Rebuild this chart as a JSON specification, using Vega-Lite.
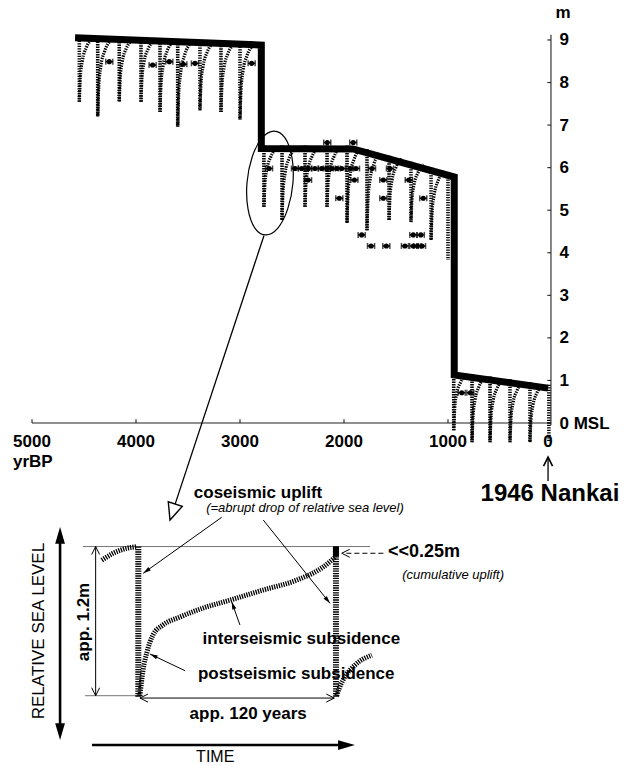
{
"$schema": "https://vega.github.io/schema/vega-lite/v6.json",
"width": 625, "height": 766, "autosize": "none", "padding": 0,
"background": "white",
"config": {"view": {"stroke": null}, "text": {"font": "Liberation Sans", "color": "black"}},
"datasets": {
"axlines": [{"yr":5000,"m":0,"yr2":10,"m2":0},{"yr":10,"m":-0.05,"yr2":10,"m2":9.12}],
"ticks": [
{"yr":5000,"m":0,"yr2":5000,"m2":0.09},{"yr":4000,"m":0,"yr2":4000,"m2":0.09},{"yr":3000,"m":0,"yr2":3000,"m2":0.09},{"yr":2000,"m":0,"yr2":2000,"m2":0.09},{"yr":1000,"m":0,"yr2":1000,"m2":0.09},
{"yr":10,"m":0,"yr2":45,"m2":0},{"yr":10,"m":1,"yr2":45,"m2":1},{"yr":10,"m":2,"yr2":45,"m2":2},{"yr":10,"m":3,"yr2":45,"m2":3},{"yr":10,"m":4,"yr2":45,"m2":4},
{"yr":10,"m":5,"yr2":45,"m2":5},{"yr":10,"m":6,"yr2":45,"m2":6},{"yr":10,"m":7,"yr2":45,"m2":7},{"yr":10,"m":8,"yr2":45,"m2":8},{"yr":10,"m":9,"yr2":45,"m2":9}],
"xlab": [{"yr":5000,"m":-0.45,"label":"5000"},{"yr":4000,"m":-0.45,"label":"4000"},{"yr":3000,"m":-0.45,"label":"3000"},{"yr":2000,"m":-0.45,"label":"2000"},{"yr":1000,"m":-0.45,"label":"1000"},{"yr":38,"m":-0.45,"label":"0"}],
"step": [{"o":1,"yr":4586,"m":9.05},{"o":2,"yr":2795,"m":8.88},{"o":3,"yr":2795,"m":6.45},{"o":4,"yr":1913,"m":6.44},{"o":5,"yr":940,"m":5.78},{"o":6,"yr":940,"m":1.13},{"o":7,"yr":38,"m":0.82}],
"teeth": [
{"id":"T1","yr":4545,"m":9.10,"m2":7.55},{"id":"T2","yr":4368,"m":9.08,"m2":7.20},{"id":"T3","yr":4161,"m":9.07,"m2":7.55},{"id":"T4","yr":3952,"m":9.05,"m2":7.55},{"id":"T5","yr":3769,"m":9.04,"m2":7.31},{"id":"T6","yr":3599,"m":9.02,"m2":6.96},{"id":"T7","yr":3385,"m":9.00,"m2":7.35},{"id":"T8","yr":3183,"m":8.98,"m2":7.31},{"id":"T9","yr":3000,"m":8.96,"m2":7.13},
{"id":"S1","yr":2770,"m":6.52,"m2":5.08},{"id":"S2","yr":2596,"m":6.52,"m2":4.77},{"id":"S3","yr":2375,"m":6.52,"m2":5.08},{"id":"S4","yr":2163,"m":6.52,"m2":5.08},{"id":"S5","yr":1971,"m":6.52,"m2":4.70},{"id":"S6","yr":1779,"m":6.43,"m2":4.53},{"id":"S7","yr":1567,"m":6.28,"m2":4.77},{"id":"S8","yr":1356,"m":6.14,"m2":4.72},{"id":"S9","yr":1163,"m":6.00,"m2":4.30},{"id":"S10","yr":1000,"m":5.90,"m2":3.83},
{"id":"R1","yr":945,"m":1.21,"m2":-0.17},{"id":"R2","yr":769,"m":1.15,"m2":-0.45},{"id":"R3","yr":596,"m":1.09,"m2":-0.45},{"id":"R4","yr":404,"m":1.03,"m2":-0.45},{"id":"R5","yr":212,"m":0.96,"m2":-0.45},{"id":"R6","yr":30,"m":0.90,"m2":-0.45}],
"curves": [
{"id":"T1","o":1,"yr":4545,"m":7.55},{"id":"T1","o":2,"yr":4535,"m":8.14},{"id":"T1","o":3,"yr":4516,"m":8.51},{"id":"T1","o":4,"yr":4478,"m":8.82},{"id":"T1","o":5,"yr":4420,"m":9.02},
{"id":"T2","o":1,"yr":4368,"m":7.20},{"id":"T2","o":2,"yr":4358,"m":7.91},{"id":"T2","o":3,"yr":4339,"m":8.37},{"id":"T2","o":4,"yr":4301,"m":8.74},{"id":"T2","o":5,"yr":4243,"m":8.99},
{"id":"T3","o":1,"yr":4161,"m":7.55},{"id":"T3","o":2,"yr":4151,"m":8.13},{"id":"T3","o":3,"yr":4132,"m":8.49},{"id":"T3","o":4,"yr":4094,"m":8.80},{"id":"T3","o":5,"yr":4036,"m":8.99},
{"id":"T4","o":1,"yr":3952,"m":7.55},{"id":"T4","o":2,"yr":3942,"m":8.12},{"id":"T4","o":3,"yr":3923,"m":8.48},{"id":"T4","o":4,"yr":3885,"m":8.78},{"id":"T4","o":5,"yr":3827,"m":8.98},
{"id":"T5","o":1,"yr":3769,"m":7.31},{"id":"T5","o":2,"yr":3759,"m":7.97},{"id":"T5","o":3,"yr":3740,"m":8.38},{"id":"T5","o":4,"yr":3702,"m":8.73},{"id":"T5","o":5,"yr":3644,"m":8.95},
{"id":"T6","o":1,"yr":3599,"m":6.96},{"id":"T6","o":2,"yr":3589,"m":7.74},{"id":"T6","o":3,"yr":3570,"m":8.24},{"id":"T6","o":4,"yr":3532,"m":8.65},{"id":"T6","o":5,"yr":3474,"m":8.92},
{"id":"T7","o":1,"yr":3385,"m":7.35},{"id":"T7","o":2,"yr":3375,"m":7.98},{"id":"T7","o":3,"yr":3356,"m":8.37},{"id":"T7","o":4,"yr":3318,"m":8.70},{"id":"T7","o":5,"yr":3260,"m":8.92},
{"id":"T8","o":1,"yr":3183,"m":7.31},{"id":"T8","o":2,"yr":3173,"m":7.95},{"id":"T8","o":3,"yr":3154,"m":8.35},{"id":"T8","o":4,"yr":3116,"m":8.68},{"id":"T8","o":5,"yr":3058,"m":8.90},
{"id":"T9","o":1,"yr":3000,"m":7.13},{"id":"T9","o":2,"yr":2990,"m":7.83},{"id":"T9","o":3,"yr":2971,"m":8.27},{"id":"T9","o":4,"yr":2933,"m":8.63},{"id":"T9","o":5,"yr":2875,"m":8.87},
{"id":"S1","o":1,"yr":2770,"m":5.08},{"id":"S1","o":2,"yr":2760,"m":5.63},{"id":"S1","o":3,"yr":2741,"m":5.97},{"id":"S1","o":4,"yr":2703,"m":6.26},{"id":"S1","o":5,"yr":2645,"m":6.45},
{"id":"S2","o":1,"yr":2596,"m":4.77},{"id":"S2","o":2,"yr":2586,"m":5.44},{"id":"S2","o":3,"yr":2567,"m":5.86},{"id":"S2","o":4,"yr":2529,"m":6.21},{"id":"S2","o":5,"yr":2471,"m":6.43},
{"id":"S3","o":1,"yr":2375,"m":5.08},{"id":"S3","o":2,"yr":2365,"m":5.63},{"id":"S3","o":3,"yr":2346,"m":5.97},{"id":"S3","o":4,"yr":2308,"m":6.26},{"id":"S3","o":5,"yr":2250,"m":6.45},
{"id":"S4","o":1,"yr":2163,"m":5.08},{"id":"S4","o":2,"yr":2153,"m":5.63},{"id":"S4","o":3,"yr":2134,"m":5.97},{"id":"S4","o":4,"yr":2096,"m":6.26},{"id":"S4","o":5,"yr":2038,"m":6.45},
{"id":"S5","o":1,"yr":1971,"m":4.70},{"id":"S5","o":2,"yr":1961,"m":5.39},{"id":"S5","o":3,"yr":1942,"m":5.83},{"id":"S5","o":4,"yr":1904,"m":6.19},{"id":"S5","o":5,"yr":1846,"m":6.43},
{"id":"S6","o":1,"yr":1779,"m":4.53},{"id":"S6","o":2,"yr":1769,"m":5.25},{"id":"S6","o":3,"yr":1750,"m":5.71},{"id":"S6","o":4,"yr":1712,"m":6.09},{"id":"S6","o":5,"yr":1654,"m":6.34},
{"id":"S7","o":1,"yr":1567,"m":4.77},{"id":"S7","o":2,"yr":1557,"m":5.34},{"id":"S7","o":3,"yr":1538,"m":5.71},{"id":"S7","o":4,"yr":1500,"m":6.01},{"id":"S7","o":5,"yr":1442,"m":6.21},
{"id":"S8","o":1,"yr":1356,"m":4.72},{"id":"S8","o":2,"yr":1346,"m":5.26},{"id":"S8","o":3,"yr":1327,"m":5.60},{"id":"S8","o":4,"yr":1289,"m":5.88},{"id":"S8","o":5,"yr":1231,"m":6.07},
{"id":"S9","o":1,"yr":1163,"m":4.30},{"id":"S9","o":2,"yr":1153,"m":4.95},{"id":"S9","o":3,"yr":1134,"m":5.35},{"id":"S9","o":4,"yr":1096,"m":5.69},{"id":"S9","o":5,"yr":1038,"m":5.92},
{"id":"R1","o":1,"yr":945,"m":-0.17},{"id":"R1","o":2,"yr":935,"m":0.35},{"id":"R1","o":3,"yr":916,"m":0.69},{"id":"R1","o":4,"yr":878,"m":0.96},{"id":"R1","o":5,"yr":820,"m":1.14},
{"id":"R2","o":1,"yr":769,"m":-0.45},{"id":"R2","o":2,"yr":759,"m":0.16},{"id":"R2","o":3,"yr":740,"m":0.54},{"id":"R2","o":4,"yr":702,"m":0.86},{"id":"R2","o":5,"yr":644,"m":1.07},
{"id":"R3","o":1,"yr":596,"m":-0.45},{"id":"R3","o":2,"yr":586,"m":0.14},{"id":"R3","o":3,"yr":567,"m":0.51},{"id":"R3","o":4,"yr":529,"m":0.81},{"id":"R3","o":5,"yr":471,"m":1.01},
{"id":"R4","o":1,"yr":404,"m":-0.45},{"id":"R4","o":2,"yr":394,"m":0.11},{"id":"R4","o":3,"yr":375,"m":0.47},{"id":"R4","o":4,"yr":337,"m":0.76},{"id":"R4","o":5,"yr":279,"m":0.96},
{"id":"R5","o":1,"yr":212,"m":-0.45},{"id":"R5","o":2,"yr":202,"m":0.09},{"id":"R5","o":3,"yr":183,"m":0.42},{"id":"R5","o":4,"yr":145,"m":0.71},{"id":"R5","o":5,"yr":87,"m":0.89}],
"pts": [
{"yr":4257,"m":8.49,"lo":4291,"hi":4223},{"yr":3840,"m":8.41,"lo":3874,"hi":3806},{"yr":3680,"m":8.49,"lo":3714,"hi":3646},{"yr":3545,"m":8.43,"lo":3579,"hi":3511},{"yr":3433,"m":8.45,"lo":3467,"hi":3399},{"yr":2888,"m":8.45,"lo":2922,"hi":2854},
{"yr":2161,"m":6.59,"lo":2195,"hi":2127},{"yr":1911,"m":6.59,"lo":1945,"hi":1877},
{"yr":2721,"m":5.98,"lo":2755,"hi":2687},{"yr":2471,"m":5.98,"lo":2505,"hi":2437},{"yr":2407,"m":5.98,"lo":2441,"hi":2373},{"yr":2343,"m":5.98,"lo":2377,"hi":2309},{"yr":2279,"m":5.98,"lo":2313,"hi":2245},{"yr":2215,"m":5.98,"lo":2249,"hi":2181},{"yr":2166,"m":5.98,"lo":2200,"hi":2132},{"yr":2118,"m":5.98,"lo":2152,"hi":2084},{"yr":2070,"m":5.98,"lo":2104,"hi":2036},{"yr":2022,"m":5.98,"lo":2056,"hi":1988},{"yr":1942,"m":5.98,"lo":1976,"hi":1908},{"yr":1885,"m":5.98,"lo":1919,"hi":1851},{"yr":1731,"m":5.98,"lo":1765,"hi":1697},{"yr":1558,"m":5.98,"lo":1592,"hi":1524},
{"yr":2346,"m":5.71,"lo":2380,"hi":2312},{"yr":1900,"m":5.71,"lo":1934,"hi":1866},{"yr":1622,"m":5.71,"lo":1656,"hi":1588},{"yr":1377,"m":5.71,"lo":1411,"hi":1343},
{"yr":2045,"m":5.28,"lo":2079,"hi":2011},{"yr":1622,"m":5.28,"lo":1656,"hi":1588},{"yr":1238,"m":5.28,"lo":1272,"hi":1204},
{"yr":1830,"m":4.42,"lo":1864,"hi":1796},{"yr":1334,"m":4.42,"lo":1368,"hi":1300},{"yr":1262,"m":4.42,"lo":1296,"hi":1228},
{"yr":1740,"m":4.16,"lo":1774,"hi":1706},{"yr":1593,"m":4.16,"lo":1627,"hi":1559},{"yr":1414,"m":4.16,"lo":1448,"hi":1380},{"yr":1334,"m":4.16,"lo":1368,"hi":1300},{"yr":1294,"m":4.16,"lo":1328,"hi":1260},{"yr":1250,"m":4.16,"lo":1284,"hi":1216},
{"yr":868,"m":0.71,"lo":902,"hi":834},{"yr":785,"m":0.71,"lo":819,"hi":751}],
"ellipse": [{"o":1,"yr":2491,"m":5.64},{"o":2,"yr":2501,"m":6.25},{"o":3,"yr":2567,"m":6.70},{"o":4,"yr":2672,"m":6.86},{"o":5,"yr":2788,"m":6.70},{"o":6,"yr":2883,"m":6.25},{"o":7,"yr":2933,"m":5.64},{"o":8,"yr":2923,"m":5.03},{"o":9,"yr":2857,"m":4.58},{"o":10,"yr":2752,"m":4.42},{"o":11,"yr":2636,"m":4.58},{"o":12,"yr":2541,"m":5.03}],
"arrowline": [{"yr":2770,"m":4.40,"yr2":3623,"m2":-1.90},{"yr":38,"m":-0.84,"yr2":38,"m2":-1.36}],
"bighead": [{"yr":3673,"m":-2.28}],
"nkhead": [{"yr":38,"m":-0.80}],
"mtext": [{"yr":-106,"m":9.63,"label":"m","kind":"c"},{"yr":5183,"m":-0.92,"label":"yrBP","kind":"l"},{"yr":20,"m":-1.67,"label":"1946 Nankai","kind":"big"}],
"iGuides": [{"t":-33.6,"t2":140.7,"rsl":1.2},{"t":-32.4,"t2":1,"rsl":0}],
"iVert": [{"t":0,"rsl":1.2,"rsl2":-0.01},{"t":120,"rsl":1.2,"rsl2":-0.01}],
"iBlock": [{"t":120,"rsl":1.2,"rsl2":1.12}],
"iCurves": [
{"id":"C0","o":1,"t":-22.2,"rsl":1.09},{"id":"C0","o":2,"t":-15.2,"rsl":1.146},{"id":"C0","o":3,"t":-7,"rsl":1.186},{"id":"C0","o":4,"t":-1,"rsl":1.199},
{"id":"C1","o":1,"t":1.0,"rsl":0.0},{"id":"C1","o":2,"t":2.9,"rsl":0.207},{"id":"C1","o":3,"t":5.3,"rsl":0.352},{"id":"C1","o":4,"t":8.9,"rsl":0.488},{"id":"C1","o":5,"t":15.0,"rsl":0.569},{"id":"C1","o":6,"t":25.3,"rsl":0.633},{"id":"C1","o":7,"t":39.3,"rsl":0.705},{"id":"C1","o":8,"t":55.7,"rsl":0.769},{"id":"C1","o":9,"t":75.7,"rsl":0.85},{"id":"C1","o":10,"t":96.4,"rsl":0.931},{"id":"C1","o":11,"t":112.2,"rsl":1.035},{"id":"C1","o":12,"t":120.0,"rsl":1.12},
{"id":"C2","o":1,"t":120.5,"rsl":0.0},{"id":"C2","o":2,"t":122,"rsl":0.06},{"id":"C2","o":3,"t":124.3,"rsl":0.126},{"id":"C2","o":4,"t":131.5,"rsl":0.246},{"id":"C2","o":5,"t":141.8,"rsl":0.326}],
"iThin": [{"t":-25.9,"rsl":1.2,"t2":-25.9,"rsl2":0},{"t":1,"rsl":-0.019,"t2":119,"rsl2":-0.019},{"t":50.6,"rsl":1.435,"t2":3.0,"rsl2":0.985},{"t":75.9,"rsl":1.413,"t2":116.4,"rsl2":0.743},{"t":61.7,"rsl":0.569,"t2":56.7,"rsl2":0.756},{"t":28.4,"rsl":0.201,"t2":7.1,"rsl2":0.335}],
"iThick": [{"t":-47.5,"rsl":1.293,"t2":-47.5,"rsl2":-0.293},{"t":-28.1,"rsl":-0.397,"t2":127,"rsl2":-0.397}],
"iDash": [{"t":148.8,"rsl":1.146,"t2":124.5,"rsl2":1.146}],
"iHeads": [
{"t":-47.5,"rsl":1.357,"kind":"bigUp"},{"t":-47.5,"rsl":-0.356,"kind":"bigDown"},{"t":131.5,"rsl":-0.397,"kind":"bigRight"},
{"t":3.0,"rsl":0.985,"kind":"a1"},{"t":116.4,"rsl":0.743,"kind":"a2"},{"t":56.7,"rsl":0.756,"kind":"a3"},{"t":7.1,"rsl":0.335,"kind":"a4"},
{"t":-25.9,"rsl":1.2,"kind":"openUp"},{"t":-25.9,"rsl":0,"kind":"openDown"},{"t":1,"rsl":-0.019,"kind":"openLeft"},{"t":119,"rsl":-0.019,"kind":"openRight"},{"t":123.5,"rsl":1.146,"kind":"openLeft"}],
"iText": [
{"t":72.7,"rsl":1.63,"label":"coseismic uplift","kind":"bold"},{"t":99,"rsl":0.456,"label":"interseismic subsidence","kind":"bold"},{"t":95.9,"rsl":0.175,"label":"postseismic subsidence","kind":"bold"},{"t":66.7,"rsl":-0.147,"label":"app. 120 years","kind":"bold"},
{"t":101.2,"rsl":1.51,"label":"(=abrupt drop of relative sea level)","kind":"ital"},
{"t":160.2,"rsl":0.971,"label":"(cumulative uplift)","kind":"italL"},
{"t":151.6,"rsl":1.156,"label":"<<0.25m","kind":"boldL"},
{"t":-33,"rsl":0.593,"label":"app. 1.2m","kind":"rotB"},
{"t":-60.3,"rsl":0.52,"label":"RELATIVE SEA LEVEL","kind":"rotR"},
{"t":46.7,"rsl":-0.493,"label":"TIME","kind":"reg"}]
},
"layer": [
{
"encoding": {
"x": {"field":"yr","type":"quantitative","scale":{"domain":[-701.9,5307.7],"reverse":true,"nice":false,"zero":false},"axis":null},
"y": {"field":"m","type":"quantitative","scale":{"domain":[-8.059,9.939],"nice":false,"zero":false},
"axis":{"orient":"right","offset":-74,"values":[0,1,2,3,4,5,6,7,8,9],"title":null,"domain":false,"ticks":false,"grid":false,"labelFont":"Liberation Sans","labelFontWeight":"bold","labelFontSize":17,"labelColor":"black","labelPadding":8,"labelFlush":false,"labelOverlap":false,"labelExpr":"datum.value == 0 ? '0 MSL' : datum.label"}}
},
"layer": [
{"data":{"name":"axlines"},"mark":{"type":"rule","color":"#222","strokeWidth":1.1},"encoding":{"x2":{"field":"yr2"},"y2":{"field":"m2"}}},
{"data":{"name":"ticks"},"mark":{"type":"rule","color":"#222","strokeWidth":1.1},"encoding":{"x2":{"field":"yr2"},"y2":{"field":"m2"}}},
{"data":{"name":"xlab"},"mark":{"type":"text","font":"Liberation Sans","fontWeight":"bold","fontSize":17,"align":"center","baseline":"middle"},"encoding":{"text":{"field":"label"}}},
{"data":{"name":"teeth"},"mark":{"type":"rule","color":"black","strokeWidth":3.6,"strokeDash":[1.4,1.1]},"encoding":{"y2":{"field":"m2"}}},
{"data":{"name":"curves"},"mark":{"type":"line","color":"black","interpolate":"monotone","strokeWidth":3.2,"strokeDash":[1.4,1.1]},"encoding":{"detail":{"field":"id"},"order":{"field":"o","type":"quantitative"}}},
{"data":{"name":"pts"},"mark":{"type":"rule","color":"black","strokeWidth":1.5},"encoding":{"x":{"field":"lo","type":"quantitative","axis":null},"x2":{"field":"hi"}}},
{"data":{"name":"pts"},"mark":{"type":"point","shape":"M0,-1L0,1","size":36,"filled":false,"stroke":"black","strokeWidth":1.5},"encoding":{"x":{"field":"lo","type":"quantitative","axis":null}}},
{"data":{"name":"pts"},"mark":{"type":"point","shape":"M0,-1L0,1","size":36,"filled":false,"stroke":"black","strokeWidth":1.5},"encoding":{"x":{"field":"hi","type":"quantitative","axis":null}}},
{"data":{"name":"pts"},"mark":{"type":"point","shape":"circle","size":26,"filled":true,"color":"black","opacity":1}},
{"data":{"name":"step"},"mark":{"type":"line","color":"black","strokeWidth":7,"strokeJoin":"miter","strokeCap":"butt"},"encoding":{"order":{"field":"o","type":"quantitative"}}},
{"data":{"name":"ellipse"},"mark":{"type":"line","color":"black","strokeWidth":1.2,"interpolate":"cardinal-closed"},"encoding":{"order":{"field":"o","type":"quantitative"}}},
{"data":{"name":"arrowline"},"mark":{"type":"rule","color":"black","strokeWidth":1.3},"encoding":{"x2":{"field":"yr2"},"y2":{"field":"m2"}}},
{"data":{"name":"bighead"},"mark":{"type":"point","shape":"M0,0L-0.7,-1.6L0.7,-1.6Z","size":441,"angle":18.2,"filled":true,"fill":"white","stroke":"black","strokeWidth":1.4,"opacity":1}},
{"data":{"name":"nkhead"},"mark":{"type":"point","shape":"M-1,2L0,0L1,2","size":81,"filled":false,"stroke":"black","strokeWidth":1.6,"opacity":1}},
{"data":{"name":"mtext"},"transform":[{"filter":"datum.kind == 'c'"}],"mark":{"type":"text","font":"Liberation Sans","fontWeight":"bold","fontSize":17,"align":"center","baseline":"middle"},"encoding":{"text":{"field":"label"}}},
{"data":{"name":"mtext"},"transform":[{"filter":"datum.kind == 'l'"}],"mark":{"type":"text","font":"Liberation Sans","fontWeight":"bold","fontSize":17,"align":"left","baseline":"middle"},"encoding":{"text":{"field":"label"}}},
{"data":{"name":"mtext"},"transform":[{"filter":"datum.kind == 'big'"}],"mark":{"type":"text","font":"Liberation Sans","fontWeight":"bold","fontSize":24,"align":"center","baseline":"middle"},"encoding":{"text":{"field":"label"}}}
]
},
{
"encoding": {
"x": {"field":"t","type":"quantitative","scale":{"domain":[-83.97,295.5],"nice":false,"zero":false},"axis":null},
"y": {"field":"rsl","type":"quantitative","scale":{"domain":[-0.5656,5.597],"nice":false,"zero":false},"axis":null}
},
"layer": [
{"data":{"name":"iGuides"},"mark":{"type":"rule","color":"#777","strokeWidth":1},"encoding":{"x2":{"field":"t2"}}},
{"data":{"name":"iCurves"},"mark":{"type":"line","color":"black","interpolate":"monotone","strokeWidth":5,"strokeDash":[1.3,1.1]},"encoding":{"detail":{"field":"id"},"order":{"field":"o","type":"quantitative"}}},
{"data":{"name":"iVert"},"mark":{"type":"rule","color":"black","strokeWidth":6,"strokeDash":[1.3,1.1]},"encoding":{"y2":{"field":"rsl2"}}},
{"data":{"name":"iBlock"},"mark":{"type":"rule","color":"black","strokeWidth":6},"encoding":{"y2":{"field":"rsl2"}}},
{"data":{"name":"iThin"},"mark":{"type":"rule","color":"black","strokeWidth":1},"encoding":{"x2":{"field":"t2"},"y2":{"field":"rsl2"}}},
{"data":{"name":"iThick"},"mark":{"type":"rule","color":"black","strokeWidth":2.6},"encoding":{"x2":{"field":"t2"},"y2":{"field":"rsl2"}}},
{"data":{"name":"iDash"},"mark":{"type":"rule","color":"black","strokeWidth":1,"strokeDash":[5,3]},"encoding":{"x2":{"field":"t2"},"y2":{"field":"rsl2"}}},
{"data":{"name":"iHeads"},"transform":[{"filter":"datum.kind == 'bigUp'"}],"mark":{"type":"point","shape":"M0,0L-0.7,2.4L0.7,2.4Z","size":196,"filled":true,"color":"black","opacity":1}},
{"data":{"name":"iHeads"},"transform":[{"filter":"datum.kind == 'bigDown'"}],"mark":{"type":"point","shape":"M0,0L-0.7,-2.4L0.7,-2.4Z","size":196,"filled":true,"color":"black","opacity":1}},
{"data":{"name":"iHeads"},"transform":[{"filter":"datum.kind == 'bigRight'"}],"mark":{"type":"point","shape":"M0,0L-2.4,-0.7L-2.4,0.7Z","size":196,"filled":true,"color":"black","opacity":1}},
{"data":{"name":"iHeads"},"transform":[{"filter":"datum.kind == 'a1'"}],"mark":{"type":"point","shape":"M0,0L-0.6,2.2L0.6,2.2Z","size":49,"angle":234.5,"filled":true,"color":"black","opacity":1}},
{"data":{"name":"iHeads"},"transform":[{"filter":"datum.kind == 'a2'"}],"mark":{"type":"point","shape":"M0,0L-0.6,2.2L0.6,2.2Z","size":49,"angle":141.3,"filled":true,"color":"black","opacity":1}},
{"data":{"name":"iHeads"},"transform":[{"filter":"datum.kind == 'a3'"}],"mark":{"type":"point","shape":"M0,0L-0.6,2.2L0.6,2.2Z","size":49,"angle":-19.6,"filled":true,"color":"black","opacity":1}},
{"data":{"name":"iHeads"},"transform":[{"filter":"datum.kind == 'a4'"}],"mark":{"type":"point","shape":"M0,0L-0.6,2.2L0.6,2.2Z","size":49,"angle":-64.5,"filled":true,"color":"black","opacity":1}},
{"data":{"name":"iHeads"},"transform":[{"filter":"datum.kind == 'openUp'"}],"mark":{"type":"point","shape":"M-1,2L0,0L1,2","size":64,"filled":false,"stroke":"black","strokeWidth":1,"opacity":1}},
{"data":{"name":"iHeads"},"transform":[{"filter":"datum.kind == 'openDown'"}],"mark":{"type":"point","shape":"M-1,-2L0,0L1,-2","size":64,"filled":false,"stroke":"black","strokeWidth":1,"opacity":1}},
{"data":{"name":"iHeads"},"transform":[{"filter":"datum.kind == 'openLeft'"}],"mark":{"type":"point","shape":"M2,-1L0,0L2,1","size":64,"filled":false,"stroke":"black","strokeWidth":1,"opacity":1}},
{"data":{"name":"iHeads"},"transform":[{"filter":"datum.kind == 'openRight'"}],"mark":{"type":"point","shape":"M-2,-1L0,0L-2,1","size":64,"filled":false,"stroke":"black","strokeWidth":1,"opacity":1}},
{"data":{"name":"iText"},"transform":[{"filter":"datum.kind == 'bold'"}],"mark":{"type":"text","font":"Liberation Sans","fontWeight":"bold","fontSize":17,"align":"center","baseline":"middle"},"encoding":{"text":{"field":"label"}}},
{"data":{"name":"iText"},"transform":[{"filter":"datum.kind == 'ital'"}],"mark":{"type":"text","font":"Liberation Sans","fontStyle":"italic","fontSize":13,"align":"center","baseline":"middle"},"encoding":{"text":{"field":"label"}}},
{"data":{"name":"iText"},"transform":[{"filter":"datum.kind == 'italL'"}],"mark":{"type":"text","font":"Liberation Sans","fontStyle":"italic","fontSize":13,"align":"left","baseline":"middle"},"encoding":{"text":{"field":"label"}}},
{"data":{"name":"iText"},"transform":[{"filter":"datum.kind == 'boldL'"}],"mark":{"type":"text","font":"Liberation Sans","fontWeight":"bold","fontSize":18,"align":"left","baseline":"middle"},"encoding":{"text":{"field":"label"}}},
{"data":{"name":"iText"},"transform":[{"filter":"datum.kind == 'rotB'"}],"mark":{"type":"text","font":"Liberation Sans","fontWeight":"bold","fontSize":17,"align":"center","baseline":"middle","angle":270},"encoding":{"text":{"field":"label"}}},
{"data":{"name":"iText"},"transform":[{"filter":"datum.kind == 'rotR'"}],"mark":{"type":"text","font":"Liberation Sans","fontSize":17,"align":"center","baseline":"middle","angle":270},"encoding":{"text":{"field":"label"}}},
{"data":{"name":"iText"},"transform":[{"filter":"datum.kind == 'reg'"}],"mark":{"type":"text","font":"Liberation Sans","fontSize":16,"align":"center","baseline":"middle"},"encoding":{"text":{"field":"label"}}}
]
}
],
"resolve": {"scale": {"x": "independent", "y": "independent"}, "axis": {"x": "independent", "y": "independent"}}
}
